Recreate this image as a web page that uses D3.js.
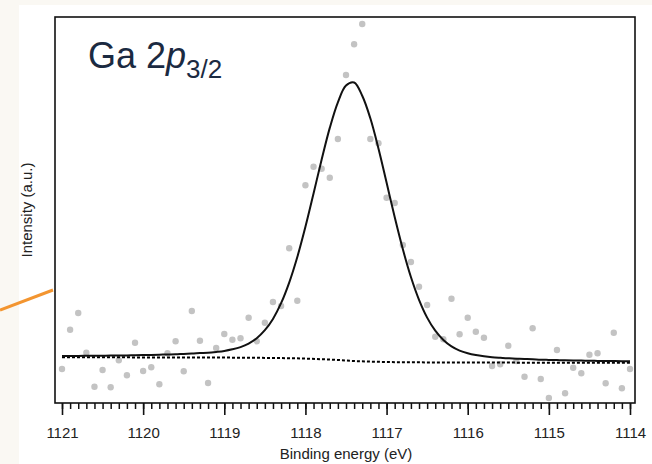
<!DOCTYPE html>
<html>
<head>
<meta charset="utf-8">
<script src="https://cdn.jsdelivr.net/npm/d3@7"></script>
<style>
  body { margin: 0; background: #faf8f3; }
  svg { display: block; }
</style>
</head>
<body>
<script>
// binding energies (eV), 0.1 eV steps
var energy = [1121.0, 1120.9, 1120.8, 1120.7, 1120.6, 1120.5, 1120.4, 1120.3, 1120.2, 1120.1,
    1120.0, 1119.9, 1119.8, 1119.7, 1119.6, 1119.5, 1119.4, 1119.3, 1119.2, 1119.1,
    1119.0, 1118.9, 1118.8, 1118.7, 1118.6, 1118.5, 1118.4, 1118.3, 1118.2, 1118.1,
    1118.0, 1117.9, 1117.8, 1117.7, 1117.6, 1117.5, 1117.4, 1117.3, 1117.2, 1117.1,
    1117.0, 1116.9, 1116.8, 1116.7, 1116.6, 1116.5, 1116.4, 1116.3, 1116.2, 1116.1,
    1116.0, 1115.9, 1115.8, 1115.7, 1115.6, 1115.5, 1115.4, 1115.3, 1115.2, 1115.1,
    1115.0, 1114.9, 1114.8, 1114.7, 1114.6, 1114.5, 1114.4, 1114.3, 1114.2, 1114.1,
    1114.0];

// measured counts (a.u.)
var counts = [34, 73.3, 90, 50.3, 16.3, 33, 15.7, 42.7, 27.7, 60.3,
    32, 35.7, 18.7, 49.7, 61.7, 31.7, 92, 62.3, 20, 55,
    69, 63.3, 64.7, 85.3, 61.7, 80.3, 101, 97, 154.7, 102.3,
    217.7, 236.3, 234.3, 225.3, 264, 328, 358.7, 379, 264, 259.7,
    205.3, 200, 158, 141, 116.3, 98, 66.3, 63.7, 104.3, 68.7,
    85.3, 71.3, 65.3, 37, 38.7, 57.3, 42, 26.3, 74.7, 24,
    5, 53, 9.7, 35.3, 29.7, 48.3, 49.7, 19.7, 70.3, 14.7,
    34];

// fitted envelope (a.u.)
var fit = [47.0, 47.1, 47.1, 47.2, 47.2, 47.3, 47.4, 47.6, 47.6, 47.8,
    47.9, 48.1, 48.3, 48.5, 48.7, 49.1, 49.4, 49.9, 50.3, 51.1,
    52.1, 53.7, 55.9, 59.4, 64.8, 72.8, 84.1, 99.8, 120.4, 146.0,
    176.2, 209.5, 243.5, 275.1, 300.7, 317.5, 320.5, 307.2, 284.7, 254.5,
    220.4, 185.9, 153.9, 126.0, 103.2, 85.4, 72.3, 63.0, 56.6, 52.4,
    49.7, 47.9, 46.7, 45.8, 45.2, 44.7, 44.3, 44.0, 43.7, 43.3,
    43.1, 42.9, 42.7, 42.6, 42.4, 42.3, 42.1, 42.0, 41.9, 41.8,
    41.7];

// Shirley background
var bgEnergy = [1121, 1119, 1118.5, 1118.2, 1118.0, 1117.8, 1117.6, 1117.4, 1117.2, 1117.0, 1116.7, 1116.0, 1114];
var bgValue = [45.7, 45.4, 45.1, 44.8, 44.4, 43.8, 43.0, 42.0, 41.4, 41.0, 40.7, 40.5, 40.2];

var tickLabels = [1121, 1120, 1119, 1118, 1117, 1116, 1115, 1114];

var w = 652,
    h = 464;

var margin = { top: 17, right: 17, bottom: 61, left: 55 },
    width = w - margin.left - margin.right,
    height = h - margin.top - margin.bottom;

var svg = d3
    .select("body")
    .append("svg")
    .attr("width", w)
    .attr("height", h);

// slide panel
svg.append("rect")
    .attr("x", 19)
    .attr("y", 5)
    .attr("width", w - 19)
    .attr("height", h - 5)
    .attr("fill", "#ffffff");

svg.append("line")
    .attr("x1", 0).attr("y1", 310)
    .attr("x2", 53).attr("y2", 290)
    .attr("stroke", "#f39530")
    .attr("stroke-width", 3);

var g = svg.append("g")
    .attr("transform", "translate(" + margin.left + "," + margin.top + ")");

var x = d3.scaleLinear()
    .domain([1121, 1114])
    .range([7, width - 5]);

var y = d3.scaleLinear()
    .domain([0, 386])
    .range([height, 0]);

// minor ticks
g.append("g")
    .attr("transform", "translate(0," + height + ")")
    .call(d3.axisBottom(x)
        .tickValues(d3.range(11140, 11211).map(function (d) { return d / 10; }))
        .tickSize(6)
        .tickFormat(""))
    .call(function (a) {
        a.select(".domain").remove();
        a.selectAll("line").attr("stroke", "#111").attr("stroke-width", 1.5);
    });

// major ticks
g.append("g")
    .attr("transform", "translate(0," + height + ")")
    .call(d3.axisBottom(x)
        .tickValues(tickLabels)
        .tickSize(12)
        .tickPadding(12)
        .tickFormat(d3.format("d")))
    .call(function (a) {
        a.select(".domain").remove();
        a.selectAll("line").attr("stroke", "#111").attr("stroke-width", 1.6);
        a.selectAll("text")
            .attr("font-family", "Liberation Sans, Arial, sans-serif")
            .attr("font-size", 15)
            .attr("fill", "#222");
    });

// data points
g.append("g")
    .selectAll("circle")
    .data(energy)
    .enter()
    .append("circle")
    .attr("cx", function (d) { return x(d); })
    .attr("cy", function (d, i) { return y(counts[i]); })
    .attr("r", 3.2)
    .attr("fill", "#c3c3c3");

// background
var bgLine = d3.line()
    .x(function (d, i) { return x(bgEnergy[i]); })
    .y(function (d) { return y(d); })
    .curve(d3.curveMonotoneX);

g.append("path")
    .datum(bgValue)
    .attr("d", bgLine)
    .attr("fill", "none")
    .attr("stroke", "#000")
    .attr("stroke-width", 2)
    .attr("stroke-dasharray", "3,2");

// fit envelope
var fitLine = d3.line()
    .x(function (d, i) { return x(energy[i]); })
    .y(function (d) { return y(d); })
    .curve(d3.curveCatmullRom.alpha(0.5));

g.append("path")
    .datum(fit)
    .attr("d", fitLine)
    .attr("fill", "none")
    .attr("stroke", "#111")
    .attr("stroke-width", 2);

// frame
g.append("rect")
    .attr("width", width)
    .attr("height", height)
    .attr("fill", "none")
    .attr("stroke", "#111")
    .attr("stroke-width", 1.6);

// axis titles
g.append("text")
    .attr("x", (x(1121) + x(1114)) / 2)
    .attr("y", height + 56)
    .attr("text-anchor", "middle")
    .attr("font-family", "Liberation Sans, Arial, sans-serif")
    .attr("font-size", 15)
    .attr("fill", "#222")
    .text("Binding energy (eV)");

svg.append("text")
    .attr("transform", "translate(32,210) rotate(-90)")
    .attr("text-anchor", "middle")
    .attr("font-family", "Liberation Sans, Arial, sans-serif")
    .attr("font-size", 15)
    .attr("fill", "#222")
    .text("Intensity (a.u.)");

// peak label
var title = svg.append("text")
    .attr("x", 88)
    .attr("y", 68)
    .attr("font-family", "Liberation Sans, Arial, sans-serif")
    .attr("font-size", 36)
    .attr("fill", "#1b2a41");
title.append("tspan").text("Ga 2");
title.append("tspan").attr("font-style", "italic").text("p");
title.append("tspan").attr("font-size", 26).attr("dy", 10).text("3/2");
</script>
</body>
</html>
